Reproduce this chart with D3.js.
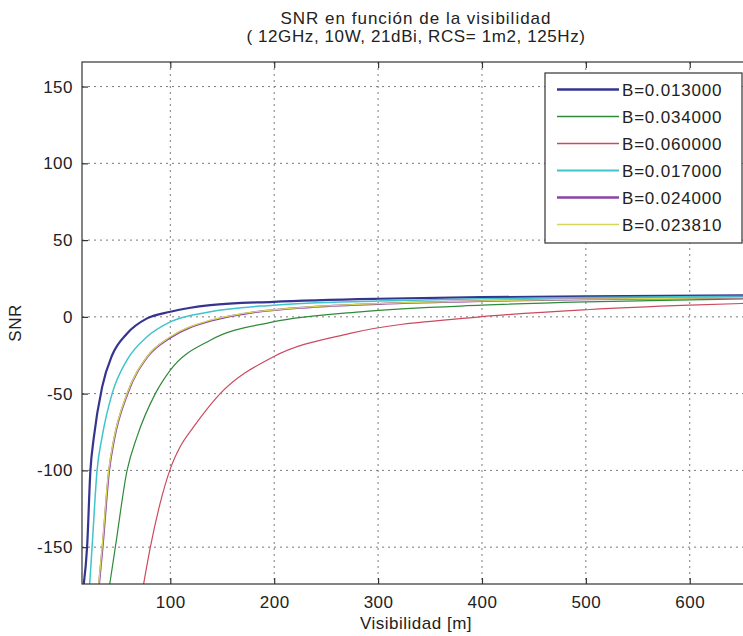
<!DOCTYPE html>
<html>
<head>
<meta charset="utf-8">
<script src="https://cdn.jsdelivr.net/npm/d3@7"></script>
<style>
  body { margin: 0; background: #fff; }
  text { font-family: "Liberation Sans", Arial, sans-serif; fill: #222; }
</style>
</head>
<body>
<div id="chart"></div>
<script>
// values
var bLabels = ['B=0.013000', 'B=0.034000', 'B=0.060000', 'B=0.017000', 'B=0.024000', 'B=0.023810']

var visB013 = [16.7, 19.9, 23.1, 26.3, 34.4, 44, 58.4, 77.6, 100, 138.5, 199, 300, 400, 500, 660]
var snrB013 = [-174, -150, -100, -79, -45.6, -25, -10.8, -1, 3.3, 7.6, 9.8, 11.8, 12.8, 13.4, 14]

var visB034 = [41.7, 47.1, 58.4, 68, 85.6, 100, 138.5, 199, 282.7, 400, 500, 660]
var snrB034 = [-174, -150, -100, -78, -50, -34.7, -15.2, -3.3, 3.3, 7.6, 9.8, 11.8]

var visB060 = [74.3, 80.8, 90, 100, 110, 122.4, 148, 199.3, 273, 398, 503.9, 600, 660]
var snrB060 = [-174, -150, -122, -99, -84, -71.7, -50, -26, -10.8, 0, 4.8, 7.6, 8.9]

var visB017 = [22.4, 24.7, 29.5, 34.4, 44, 58.4, 77.6, 100, 138.5, 199, 300, 400, 500, 660]
var snrB017 = [-174, -150, -100, -78, -50, -28, -13, -3.3, 3.3, 7.6, 10.3, 11.8, 12.6, 13.4]

var visB024 = [31.4, 34.8, 41.1, 45.9, 58.8, 78, 100, 138.5, 170.5, 234.6, 300, 400, 500, 660]
var snrB024 = [-174, -150, -100, -80, -50, -26, -13.5, -2.6, 1.9, 6.3, 8.4, 10.3, 11.4, 12.5]

var visB02381 = [31.1, 34.4, 40.7, 45.5, 58.4, 77.6, 100, 138.5, 170.5, 234.6, 300, 400, 500, 660]
var snrB02381 = [-174, -150, -100, -80, -50, -26, -13, -2.2, 2.2, 6.5, 8.6, 10.4, 11.5, 12.6]

var xTicks = [100, 200, 300, 400, 500, 600]
var yTicks = [-150, -100, -50, 0, 50, 100, 150]

var series = [
  { name: bLabels[0], vis: visB013, snr: snrB013, color: '#35358f', w: 2.2 },
  { name: bLabels[1], vis: visB034, snr: snrB034, color: '#2f8a3a', w: 1.2 },
  { name: bLabels[2], vis: visB060, snr: snrB060, color: '#cc4a5e', w: 1.2 },
  { name: bLabels[3], vis: visB017, snr: snrB017, color: '#3fc4cc', w: 1.5 },
  { name: bLabels[4], vis: visB024, snr: snrB024, color: '#8a44a6', w: 2 },
  { name: bLabels[5], vis: visB02381, snr: snrB02381, color: '#d6d65a', w: 1.3 }
]

var width = 743, height = 636
var margin = { left: 82, top: 62, right: -7, bottom: 52 }

var svg = d3.select('#chart')
  .append('svg')
  .attr('width', width)
  .attr('height', height)

var xScale = d3.scaleLinear()
  .domain([15, 658])
  .range([margin.left, width - margin.right])

var yScale = d3.scaleLinear()
  .domain([-174, 166])
  .range([height - margin.bottom, margin.top])

svg.append('clipPath')
  .attr('id', 'plot-clip')
  .append('rect')
  .attr('x', margin.left)
  .attr('y', margin.top)
  .attr('width', width - margin.right - margin.left)
  .attr('height', height - margin.bottom - margin.top)

// grid
var grid = svg.append('g').attr('class', 'grid')
grid.selectAll('.vgrid')
  .data(xTicks)
  .enter()
  .append('line')
  .attr('x1', d => xScale(d))
  .attr('x2', d => xScale(d))
  .attr('y1', margin.top)
  .attr('y2', height - margin.bottom)
grid.selectAll('.hgrid')
  .data(yTicks)
  .enter()
  .append('line')
  .attr('x1', margin.left)
  .attr('x2', width - margin.right)
  .attr('y1', d => yScale(d))
  .attr('y2', d => yScale(d))
grid.selectAll('line')
  .style('stroke', '#7a7a7a')
  .style('stroke-width', 1)
  .style('stroke-dasharray', '2,4')

// lines
var line = d3.line()
  .curve(d3.curveMonotoneX)
  .x(d => xScale(d[0]))
  .y(d => yScale(d[1]))

var linesG = svg.append('g')
  .attr('clip-path', 'url(#plot-clip)')

series.forEach(s => {
  linesG.append('path')
    .datum(d3.zip(s.vis, s.snr))
    .attr('d', line)
    .style('fill', 'none')
    .style('stroke', s.color)
    .style('stroke-width', s.w)
})

// frame
svg.append('rect')
  .attr('x', margin.left)
  .attr('y', margin.top)
  .attr('width', width - margin.right - margin.left)
  .attr('height', height - margin.bottom - margin.top)
  .style('fill', 'none')
  .style('stroke', '#333')
  .style('stroke-width', 1.2)

// axes, ticks pointing inward like matlab
var xAxis = d3.axisBottom(xScale)
  .tickValues(xTicks)
  .tickSizeInner(-6)
  .tickSizeOuter(0)
  .tickPadding(12)

var xAxisTop = d3.axisTop(xScale)
  .tickValues(xTicks)
  .tickSizeInner(-6)
  .tickSizeOuter(0)
  .tickFormat('')

var yAxis = d3.axisLeft(yScale)
  .tickValues(yTicks)
  .tickSizeInner(-6)
  .tickSizeOuter(0)
  .tickPadding(9)
  .tickFormat(d => String(d))

svg.append('g')
  .attr('transform', `translate(0,${height - margin.bottom})`)
  .call(xAxis)
svg.append('g')
  .attr('transform', `translate(0,${margin.top})`)
  .call(xAxisTop)
svg.append('g')
  .attr('transform', `translate(${margin.left},0)`)
  .call(yAxis)

svg.selectAll('.domain').remove()
svg.selectAll('.tick line')
  .style('stroke', '#333')
  .style('stroke-width', 1.2)
svg.selectAll('.tick text')
  .style('font-size', '17px')
  .style('letter-spacing', '0.5px')
  .style('fill', '#222')

// titles
svg.append('text')
  .attr('x', (margin.left + width - margin.right) / 2)
  .attr('y', 24)
  .attr('text-anchor', 'middle')
  .style('font-size', '17px')
  .style('letter-spacing', '1px')
  .text('SNR en función de la visibilidad')

svg.append('text')
  .attr('x', (margin.left + width - margin.right) / 2)
  .attr('y', 42)
  .attr('text-anchor', 'middle')
  .style('font-size', '17px')
  .style('letter-spacing', '0.6px')
  .text('( 12GHz, 10W, 21dBi, RCS= 1m2, 125Hz)')

svg.append('text')
  .attr('x', (margin.left + width - margin.right) / 2)
  .attr('y', 629)
  .attr('text-anchor', 'middle')
  .style('font-size', '17px')
  .style('letter-spacing', '0.5px')
  .text('Visibilidad [m]')

svg.append('text')
  .attr('transform', `translate(21,${(margin.top + height - margin.bottom) / 2}) rotate(-90)`)
  .attr('text-anchor', 'middle')
  .style('font-size', '17px')
  .style('letter-spacing', '0.5px')
  .text('SNR')

// legend
var legend = svg.append('g').attr('class', 'legend')
legend.append('rect')
  .attr('x', 545)
  .attr('y', 73)
  .attr('width', 197)
  .attr('height', 170)
  .style('fill', '#fff')
  .style('stroke', '#333')
  .style('stroke-width', 1.2)

var rows = legend.selectAll('.row')
  .data(series)
  .enter()
  .append('g')
  .attr('transform', (d, i) => `translate(0,${89.5 + i * 27})`)

rows.append('line')
  .attr('x1', 557)
  .attr('x2', 619)
  .style('stroke', d => d.color)
  .style('stroke-width', d => d.w + 0.3)

rows.append('text')
  .attr('x', 622)
  .attr('y', 6)
  .style('font-size', '17px')
  .style('letter-spacing', '0.8px')
  .text(d => d.name)
</script>
</body>
</html>
